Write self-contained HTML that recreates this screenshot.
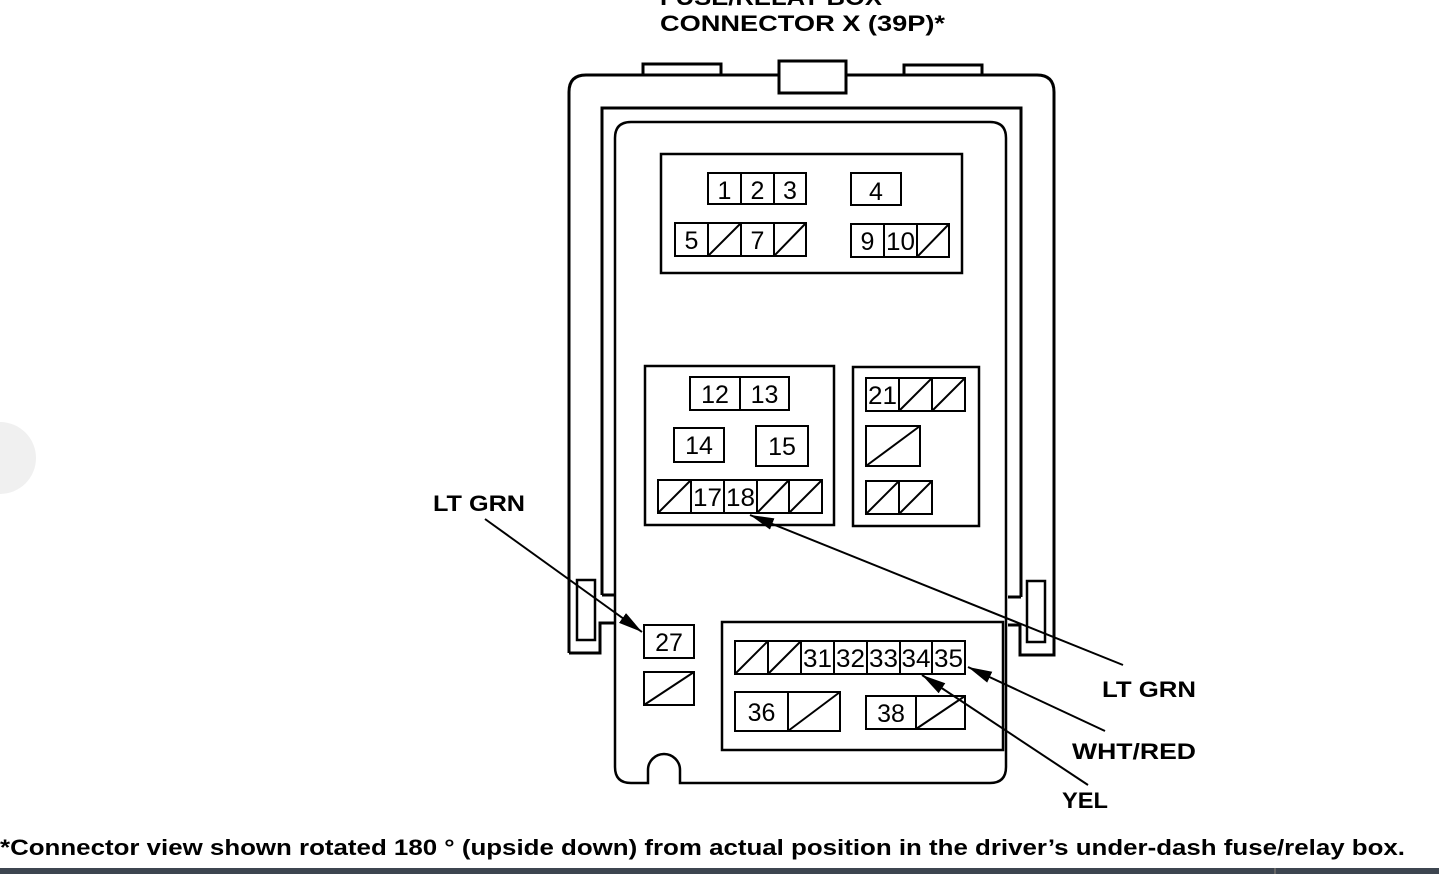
<!DOCTYPE html>
<html><head><meta charset="utf-8"><style>
html,body{margin:0;padding:0;background:#fff;}
svg{display:block;}
text{font-family:"Liberation Sans",sans-serif;}
.n{font-size:25px;fill:#000;}
.b{font-weight:bold;font-size:22px;fill:#000;}
</style></head><body>
<svg width="1439" height="874" viewBox="0 0 1439 874" xmlns="http://www.w3.org/2000/svg">
<defs>
<marker id="a2" viewBox="0 0 24 12" refX="24" refY="6" markerWidth="24" markerHeight="12" markerUnits="userSpaceOnUse" orient="auto"><path d="M0,0 L24,6 L0,12 z" fill="#000"/></marker></defs>
<circle cx="0" cy="458" r="36" fill="#f0f0f0"/>
<rect x="0" y="868" width="1439" height="6" fill="#3d4550"/>
<rect x="1274" y="868" width="2" height="6" fill="#666"/>
<g fill="none" stroke="#000" stroke-width="3">
<path d="M643,75 V64 H721 V75"/>
<path d="M904,75 V65 H982 V75"/>
<rect x="779" y="61" width="67" height="32" fill="#fff"/>
<path d="M569,653 V92 Q569,75 586,75 H779 M846,75 H1037 Q1054,75 1054,92 V655 H1020 V625 H1008"/>
<path d="M569,653 H600 V623 H615"/>
<path d="M602,595 V108 H1021 V597"/>
<path d="M602,595 H615 M1008,597 H1021"/>
<rect x="577" y="580" width="18" height="60" stroke-width="2.5"/>
<rect x="1027" y="581" width="18" height="61" stroke-width="2.5"/>
<path d="M615,767 V138 Q615,122 631,122 H990 Q1006,122 1006,138 V767 Q1006,783 990,783 H680 V770 A16,16 0 0 0 648,770 V783 H631 Q615,783 615,767 Z" stroke-width="2.5"/>
</g>
<g fill="none" stroke="#000" stroke-width="2.5">
<rect x="661" y="154" width="301" height="119"/>
<rect x="645" y="366" width="189" height="159"/>
<rect x="853" y="367" width="126" height="159"/>
<rect x="722" y="622" width="281" height="128"/>
</g>
<g fill="#fff" stroke="#000" stroke-width="2">
<rect x="708" y="173" width="33" height="31"/><rect x="741" y="173" width="33" height="31"/><rect x="774" y="173" width="32" height="31"/>
<rect x="851" y="173" width="50" height="32"/>
<rect x="675" y="223" width="33" height="33"/><rect x="708" y="223" width="33" height="33"/><rect x="741" y="223" width="33" height="33"/><rect x="774" y="223" width="32" height="33"/>
<rect x="851" y="224" width="33" height="33"/><rect x="884" y="224" width="33" height="33"/><rect x="917" y="224" width="32" height="33"/>
<rect x="690" y="377" width="50" height="33"/><rect x="740" y="377" width="49" height="33"/>
<rect x="674" y="428" width="50" height="34"/>
<rect x="756" y="426" width="52" height="40"/>
<rect x="658" y="480" width="33" height="33"/><rect x="691" y="480" width="33" height="33"/><rect x="724" y="480" width="33" height="33"/><rect x="757" y="480" width="32" height="33"/><rect x="789" y="480" width="33" height="33"/>
<rect x="866" y="378" width="33" height="33"/><rect x="899" y="378" width="33" height="33"/><rect x="932" y="378" width="33" height="33"/>
<rect x="866" y="426" width="54" height="40"/>
<rect x="866" y="481" width="33" height="33"/><rect x="899" y="481" width="33" height="33"/>
<rect x="644" y="625" width="50" height="33"/>
<rect x="644" y="672" width="50" height="33"/>
<rect x="735" y="641" width="33" height="33"/><rect x="768" y="641" width="33" height="33"/><rect x="801" y="641" width="33" height="33"/><rect x="834" y="641" width="33" height="33"/><rect x="867" y="641" width="33" height="33"/><rect x="900" y="641" width="32" height="33"/><rect x="932" y="641" width="33" height="33"/>
<rect x="735" y="692" width="53" height="39"/><rect x="788" y="692" width="52" height="39"/>
<rect x="866" y="696" width="50" height="33"/><rect x="916" y="696" width="49" height="33"/>
</g>
<g stroke="#000" stroke-width="2" fill="none">
<path d="M708,256 L741,223 M774,256 L806,223 M917,257 L949,224"/>
<path d="M658,513 L691,480 M757,513 L789,480 M789,513 L822,480"/>
<path d="M899,411 L932,378 M932,411 L965,378 M866,466 L920,426 M866,514 L899,481 M899,514 L932,481"/>
<path d="M644,705 L694,672 M735,674 L768,641 M768,674 L801,641 M788,731 L840,692 M916,729 L965,696"/>
</g>
<g class="n">
<text x="724.5" y="199" text-anchor="middle">1</text><text x="757.5" y="199" text-anchor="middle">2</text><text x="790" y="199" text-anchor="middle">3</text>
<text x="876" y="200" text-anchor="middle">4</text>
<text x="691.5" y="249" text-anchor="middle">5</text><text x="757.5" y="249" text-anchor="middle">7</text>
<text x="867.5" y="250" text-anchor="middle">9</text><text x="900.5" y="250" text-anchor="middle" textLength="29" lengthAdjust="spacingAndGlyphs">10</text>
<text x="715" y="403" text-anchor="middle">12</text><text x="764.5" y="403" text-anchor="middle">13</text>
<text x="699" y="454" text-anchor="middle">14</text><text x="782" y="455" text-anchor="middle">15</text>
<text x="707.5" y="506" text-anchor="middle" textLength="29" lengthAdjust="spacingAndGlyphs">17</text><text x="740.5" y="506" text-anchor="middle" textLength="29" lengthAdjust="spacingAndGlyphs">18</text>
<text x="882.5" y="404" text-anchor="middle" textLength="29" lengthAdjust="spacingAndGlyphs">21</text>
<text x="669" y="651" text-anchor="middle">27</text>
<text x="817.5" y="667" text-anchor="middle" textLength="29" lengthAdjust="spacingAndGlyphs">31</text>
<text x="850.5" y="667" text-anchor="middle" textLength="29" lengthAdjust="spacingAndGlyphs">32</text>
<text x="883.5" y="667" text-anchor="middle" textLength="29" lengthAdjust="spacingAndGlyphs">33</text>
<text x="916" y="667" text-anchor="middle" textLength="29" lengthAdjust="spacingAndGlyphs">34</text>
<text x="948.5" y="667" text-anchor="middle" textLength="29" lengthAdjust="spacingAndGlyphs">35</text>
<text x="761.5" y="721" text-anchor="middle">36</text>
<text x="891" y="722" text-anchor="middle">38</text>
</g>
<g stroke="#000" stroke-width="2" fill="none">
<line x1="485" y1="519" x2="642" y2="632" marker-end="url(#a2)"/>
<line x1="1123" y1="665" x2="750" y2="515" marker-end="url(#a2)"/>
<line x1="1105" y1="731" x2="968" y2="667" marker-end="url(#a2)"/>
<line x1="1088" y1="785" x2="922" y2="675" marker-end="url(#a2)"/>
</g>
<g class="b">
<text x="660" y="5" textLength="222" lengthAdjust="spacingAndGlyphs">FUSE/RELAY BOX</text>
<text x="660" y="31" textLength="285" lengthAdjust="spacingAndGlyphs">CONNECTOR X (39P)*</text>
<text x="433" y="511" textLength="92" lengthAdjust="spacingAndGlyphs">LT GRN</text>
<text x="1102" y="697" textLength="94" lengthAdjust="spacingAndGlyphs">LT GRN</text>
<text x="1072" y="759" textLength="124" lengthAdjust="spacingAndGlyphs">WHT/RED</text>
<text x="1062" y="808" textLength="46" lengthAdjust="spacingAndGlyphs">YEL</text>
<text x="0" y="855" textLength="1405" lengthAdjust="spacingAndGlyphs">*Connector view shown rotated 180 ° (upside down) from actual position in the driver’s under-dash fuse/relay box.</text>
</g>
</svg>
</body></html>
